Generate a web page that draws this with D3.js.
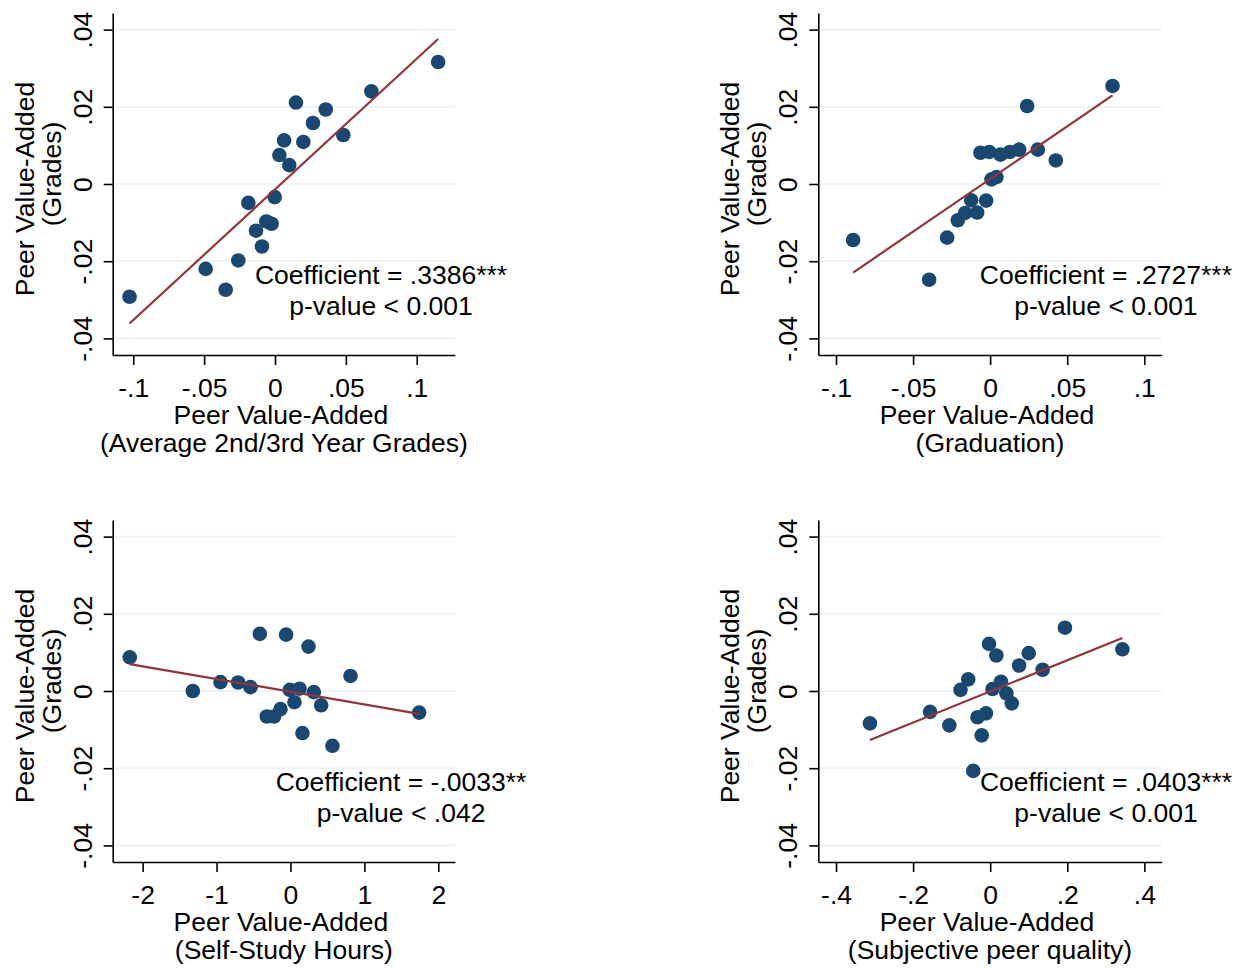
<!DOCTYPE html>
<html>
<head>
<meta charset="utf-8">
<script src="https://cdn.jsdelivr.net/npm/d3@7"></script>
<style>
body { margin: 0; background: #fff; }
text { font-family: "Liberation Sans", Arial, Helvetica, sans-serif; font-size: 26.5px; fill: #000; }
</style>
</head>
<body>
<script>
//============================================================
// Data
var gradesX = [-0.1026, -0.0489, -0.0348, -0.0259, -0.0188, -0.0134, -0.0092, -0.0061, -0.0024, -0.0002,
               0.0031, 0.0064, 0.0101, 0.0148, 0.0200, 0.0268, 0.0358, 0.0482, 0.0680, 0.1151];
var gradesY = [-0.0292, -0.0220, -0.0274, -0.0198, -0.0049, -0.0121, -0.0162, -0.0097, -0.0103, -0.0034,
               0.0075, 0.0113, 0.0049, 0.0211, 0.0109, 0.0158, 0.0193, 0.0127, 0.0240, 0.0316];

var gradX = [-0.0889, -0.0396, -0.0279, -0.0210, -0.0162, -0.0123, -0.0084, -0.0026, -0.0063, -0.0006,
             0.0009, 0.0041, 0.0067, 0.0128, 0.0188, 0.0240, 0.0309, 0.0426, 0.0794];
var gradY = [-0.0145, -0.0248, -0.0139, -0.0094, -0.0075, -0.0042, -0.0074, -0.0043, 0.0081, 0.0083,
             0.0012, 0.0018, 0.0076, 0.0083, 0.0089, 0.0202, 0.0089, 0.0061, 0.0254];

var hoursX = [-2.174, -1.321, -0.947, -0.708, -0.541, -0.415, -0.320, -0.221, -0.135, -0.059,
              -0.009, 0.054, 0.122, 0.162, 0.244, 0.316, 0.415, 0.568, 0.812, 1.741];
var hoursY = [0.0087, 0.0000, 0.0023, 0.0022, 0.0010, 0.0148, -0.0066, -0.0066, -0.0047, 0.0146,
              0.0003, -0.0029, 0.0006, -0.0109, 0.0115, -0.0003, -0.0037, -0.0142, 0.0039, -0.0056];

var subjX = [-0.312, -0.156, -0.106, -0.077, -0.057, -0.044, -0.033, -0.022, -0.011, -0.003,
             0.006, 0.016, 0.028, 0.042, 0.056, 0.075, 0.100, 0.136, 0.194, 0.343];
var subjY = [-0.0084, -0.0054, -0.0089, 0.0003, 0.0030, -0.0207, -0.0068, -0.0115, -0.0058, 0.0122,
             0.0005, 0.0092, 0.0024, -0.0006, -0.0032, 0.0066, 0.0098, 0.0055, 0.0164, 0.0108];

// fitted lines
var coefs = [0.3386, 0.2727, -0.0033, 0.0403];
var intercepts = [-0.0014, 0.0013, -0.0002, -0.0001];
var coefLabels = ["Coefficient = .3386***", "Coefficient = .2727***", "Coefficient = -.0033**", "Coefficient = .0403***"];
var pLabels = ["p-value < 0.001", "p-value < 0.001", "p-value < .042", "p-value < 0.001"];

// ticks
var yTicks = [-0.04, -0.02, 0, 0.02, 0.04];
var yTickLabels = ["-.04", "-.02", "0", ".02", ".04"];
var gradesTicks = [-0.1, -0.05, 0, 0.05, 0.1];
var gradesTickLabels = ["-.1", "-.05", "0", ".05", ".1"];
var hoursTicks = [-2, -1, 0, 1, 2];
var hoursTickLabels = ["-2", "-1", "0", "1", "2"];
var subjTicks = [-0.4, -0.2, 0, 0.2, 0.4];
var subjTickLabels = ["-.4", "-.2", "0", ".2", ".4"];

// titles
var yTitles = ["Peer Value-Added", "(Grades)"];
var xTitle = "Peer Value-Added";
var xSubtitles = ["(Average 2nd/3rd Year Grades)", "(Graduation)", "(Self-Study Hours)", "(Subjective peer quality)"];

//============================================================
// Panel layout
var panels = [
  { xs: gradesX, ys: gradesY, ticks: gradesTicks, labels: gradesTickLabels,
    left: 112.7, top: 13, w: 342.3, h: 342, xdom: [-0.1145, 0.127], note: [0.0748, -0.0263] },
  { xs: gradX, ys: gradY, ticks: gradesTicks, labels: gradesTickLabels,
    left: 818.3, top: 13, w: 343.4, h: 342, xdom: [-0.1115, 0.1113], note: [0.0751, -0.0263] },
  { xs: hoursX, ys: hoursY, ticks: hoursTicks, labels: hoursTickLabels,
    left: 112.7, top: 520, w: 342.3, h: 342, xdom: [-2.405, 2.226], note: [1.496, -0.0263] },
  { xs: subjX, ys: subjY, ticks: subjTicks, labels: subjTickLabels,
    left: 818.3, top: 520, w: 343.4, h: 342, xdom: [-0.446, 0.445], note: [0.3006, -0.0263] }
];

var navy = "#1a476f", maroon = "#90353b", grid = "#eaf2f3";

var svg = d3.select("body")
  .append("svg")
  .attr("width", 1245)
  .attr("height", 968);

svg.append("rect").attr("width", 1245).attr("height", 968).attr("fill", "#fff");

panels.forEach(function (p, k) {
  var g = svg.append("g").attr("transform", "translate(" + p.left + "," + p.top + ")");

  var x = d3.scaleLinear().domain(p.xdom).range([0, p.w]);
  var y = d3.scaleLinear().domain([-0.0443, 0.0443]).range([p.h, 0]);

  // gridlines
  g.selectAll(".grid")
    .data(yTicks)
    .enter()
    .append("line")
    .attr("x1", 0).attr("x2", p.w)
    .attr("y1", function (d) { return y(d); })
    .attr("y2", function (d) { return y(d); })
    .attr("stroke", grid)
    .attr("stroke-width", 1.6);

  // y axis
  var yAxis = g.append("g")
    .call(d3.axisLeft(y).tickValues(yTicks).tickSize(9).tickSizeOuter(0)
      .tickFormat(function (d, i) { return yTickLabels[i]; }));
  yAxis.selectAll("text")
    .attr("x", null).attr("dy", null)
    .attr("transform", "translate(-21,0) rotate(-90)")
    .attr("text-anchor", "middle")
    .attr("fill", "#000");

  // x axis
  var xAxis = g.append("g")
    .attr("transform", "translate(0," + p.h + ")")
    .call(d3.axisBottom(x).tickValues(p.ticks).tickSize(10).tickSizeOuter(0)
      .tickFormat(function (d, i) { return p.labels[i]; }));
  xAxis.selectAll("text")
    .attr("y", 41.5).attr("dy", null)
    .attr("fill", "#000");

  [yAxis, xAxis].forEach(function (a) {
    a.attr("font-size", null).attr("font-family", null);
    a.select(".domain").attr("stroke", "#000").attr("stroke-width", 1.6);
    a.selectAll(".tick line").attr("stroke", "#000").attr("stroke-width", 1.6);
  });

  // axis titles
  g.append("text")
    .attr("transform", "translate(-79," + (p.h / 2 + 5) + ") rotate(-90)")
    .attr("text-anchor", "middle")
    .text(yTitles[0]);
  g.append("text")
    .attr("transform", "translate(-52," + (p.h / 2 - 10) + ") rotate(-90)")
    .attr("text-anchor", "middle")
    .text(yTitles[1]);

  g.append("text")
    .attr("x", p.w / 2 - 3).attr("y", p.h + 69)
    .attr("text-anchor", "middle")
    .text(xTitle);
  g.append("text")
    .attr("x", p.w / 2).attr("y", p.h + 96.5)
    .attr("text-anchor", "middle")
    .text(xSubtitles[k]);

  // points
  g.selectAll("circle")
    .data(p.xs)
    .enter()
    .append("circle")
    .attr("cx", function (d) { return x(d); })
    .attr("cy", function (d, i) { return y(p.ys[i]); })
    .attr("r", 7.3)
    .style("fill", navy);

  // linear fit over range of x
  var ext = d3.extent(p.xs);
  g.append("line")
    .attr("x1", x(ext[0])).attr("y1", y(intercepts[k] + coefs[k] * ext[0]))
    .attr("x2", x(ext[1])).attr("y2", y(intercepts[k] + coefs[k] * ext[1]))
    .attr("stroke", maroon)
    .attr("stroke-width", 2.2);

  // annotation
  g.append("text")
    .attr("x", x(p.note[0])).attr("y", y(p.note[1]) - 2)
    .attr("text-anchor", "middle")
    .text(coefLabels[k]);
  g.append("text")
    .attr("x", x(p.note[0])).attr("y", y(p.note[1]) + 29)
    .attr("text-anchor", "middle")
    .text(pLabels[k]);
});
</script>
</body>
</html>
